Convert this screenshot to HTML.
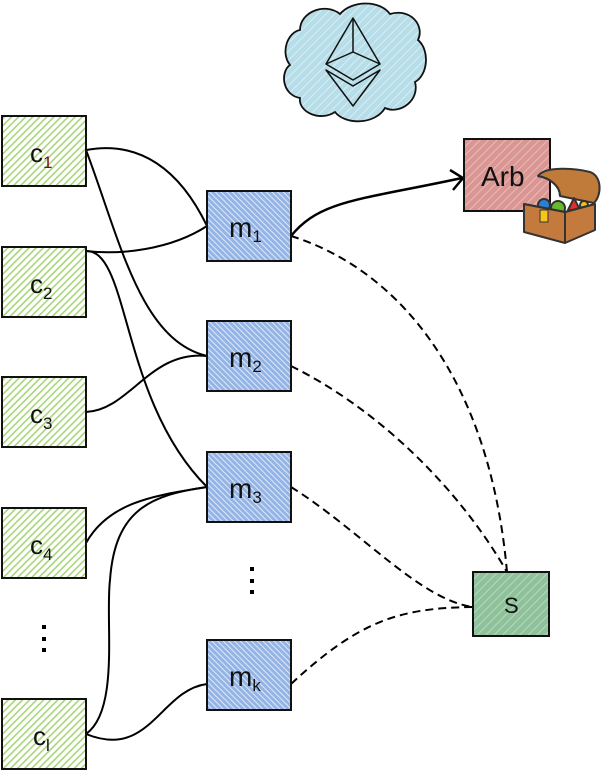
<!DOCTYPE html>
<html><head><meta charset="utf-8"><style>
html,body{margin:0;padding:0;background:#fff;}
svg{display:block;}
text{font-family:"Liberation Sans","DejaVu Sans",sans-serif;}
</style></head><body>
<svg width="603" height="775" viewBox="0 0 603 775" xmlns="http://www.w3.org/2000/svg">
<defs>
<pattern id="pg" width="5" height="5" patternUnits="userSpaceOnUse" patternTransform="rotate(45)">
<rect width="5" height="5" fill="#fff"/><rect width="1.6" height="5" fill="#a9d67a"/></pattern>
<pattern id="pb" width="4" height="4" patternUnits="userSpaceOnUse" patternTransform="rotate(-45)">
<rect width="4" height="4" fill="#94b4e6"/><rect width="1" height="4" fill="#dfe8f8"/></pattern>
<pattern id="pr" width="6" height="6" patternUnits="userSpaceOnUse" patternTransform="rotate(45)">
<rect width="6" height="6" fill="#d99693"/><rect width="1" height="6" fill="#e9bcba"/></pattern>
<pattern id="ps" width="6" height="6" patternUnits="userSpaceOnUse" patternTransform="rotate(45)">
<rect width="6" height="6" fill="#8fc19a"/><rect width="1" height="6" fill="#b7d9bd"/></pattern>
<pattern id="pc" width="6" height="6" patternUnits="userSpaceOnUse" patternTransform="rotate(45)">
<rect width="6" height="6" fill="#b6dde8"/><rect width="1" height="6" fill="#d9eef4"/></pattern>
</defs>

<!-- cloud -->
<path d="M300,30 C300,12 325,2 340,14 C352,0 380,0 390,14 C410,8 425,25 418,40 C430,50 428,75 415,82 C420,100 400,115 385,108 C375,125 345,125 335,112 C320,122 298,112 300,98 C282,95 280,72 290,65 C280,52 288,32 300,30 Z" fill="url(#pc)" stroke="#111" stroke-width="1.8"/>
<g fill="none" stroke="#111" stroke-width="1.5" stroke-linejoin="round">
<path d="M353,18 L326,64 L353,80 L380,64 Z"/><path d="M326,64 L353,52 L380,64"/><path d="M353,18 L353,52"/>
<path d="M326,70 L353,106 L380,70 L353,86 Z"/>
</g>

<!-- solid connectors -->
<g fill="none" stroke="#000" stroke-width="2">
<path d="M86,150 C140,140 180,170 207,226"/>
<path d="M86,150 C120,240 140,340 207,356"/>
<path d="M86,251 C120,255 170,250 207,226"/>
<path d="M86,251 C130,250 120,400 207,487"/>
<path d="M86,412 C130,410 150,350 207,356"/>
<path d="M86,543 C110,500 160,495 207,487"/>
<path d="M86,734 C120,710 105,620 110,580 C115,510 150,495 207,487"/>
<path d="M86,734 C150,760 160,690 207,684"/>
<path d="M291,236 C320,200 360,200 462,178" stroke-width="2.5"/>
<path d="M450,170 L463,178 L453,190" stroke-width="2.5"/>
</g>
<!-- dashed -->
<g fill="none" stroke="#000" stroke-width="2" stroke-dasharray="8,5">
<path d="M291,236 C400,270 490,380 507,572"/>
<path d="M291,366 C380,410 460,490 507,572"/>
<path d="M291,487 C360,530 420,600 473,607"/>
<path d="M291,684 C360,620 400,608 473,607"/>
</g>

<!-- c boxes -->
<g stroke="#111" stroke-width="2" fill="url(#pg)">
<rect x="2" y="116" width="84" height="70"/>
<rect x="2" y="247" width="84" height="70"/>
<rect x="2" y="377" width="84" height="70"/>
<rect x="2" y="508" width="84" height="70"/>
<rect x="2" y="699" width="84" height="70"/>
</g>
<g font-size="26" fill="#111">
<text x="30" y="162">c<tspan font-size="17" dy="6" fill="#7a1010">1</tspan></text>
<text x="30" y="293">c<tspan font-size="17" dy="6">2</tspan></text>
<text x="30" y="423">c<tspan font-size="17" dy="6">3</tspan></text>
<text x="30" y="554">c<tspan font-size="17" dy="6">4</tspan></text>
<text x="33" y="745">c<tspan font-size="17" dy="6">l</tspan></text>
</g>

<!-- m boxes -->
<g stroke="#111" stroke-width="2" fill="url(#pb)">
<rect x="207" y="191" width="84" height="70"/>
<rect x="207" y="321" width="84" height="70"/>
<rect x="207" y="452" width="84" height="70"/>
<rect x="207" y="640" width="84" height="70"/>
</g>
<g font-size="28" fill="#111">
<text x="229" y="237">m<tspan font-size="17" dy="5">1</tspan></text>
<text x="229" y="367">m<tspan font-size="17" dy="5">2</tspan></text>
<text x="229" y="498">m<tspan font-size="17" dy="5">3</tspan></text>
<text x="229" y="686">m<tspan font-size="17" dy="5">k</tspan></text>
</g>

<!-- dots -->
<g fill="#000">
<rect x="42" y="625" width="4" height="4"/><rect x="42" y="637" width="4" height="4"/><rect x="42" y="648" width="4" height="4"/>
<rect x="250" y="567" width="4" height="4"/><rect x="250" y="579" width="4" height="4"/><rect x="250" y="590" width="4" height="4"/>
</g>

<!-- Arb -->
<rect x="464" y="139" width="86" height="72" fill="url(#pr)" stroke="#111" stroke-width="2"/>
<text x="481" y="186" font-size="28" fill="#111">Arb</text>

<!-- chest -->
<g stroke="#333" stroke-width="2" stroke-linejoin="round">
<path d="M538,176 C545,166 575,168 590,172 C602,176 602,195 594,203 L560,196 C560,186 550,178 538,176 Z" fill="#c07a3a"/>
<path d="M538,176 C550,178 560,186 560,196" fill="none"/>
<circle cx="544" cy="205" r="6" fill="#2c7fd6"/>
<circle cx="558" cy="208" r="7" fill="#66b82c"/>
<path d="M568,210 L574,198 L580,210 Z" fill="#e23030"/>
<circle cx="584" cy="205" r="4" fill="#f2c21a"/>
<path d="M524,204 L565,212 L595,204 L595,230 L565,243 L524,232 Z" fill="#c47a3c"/>
<path d="M565,212 L565,243 M524,204 L565,212 L595,204" fill="none"/>
<rect x="540" y="210" width="8" height="12" fill="#f5c518" stroke-width="1"/>
</g>

<!-- S -->
<rect x="473" y="572" width="76" height="64" fill="url(#ps)" stroke="#111" stroke-width="2"/>
<text x="504" y="613" font-size="22" fill="#111">S</text>
</svg>
</body></html>
